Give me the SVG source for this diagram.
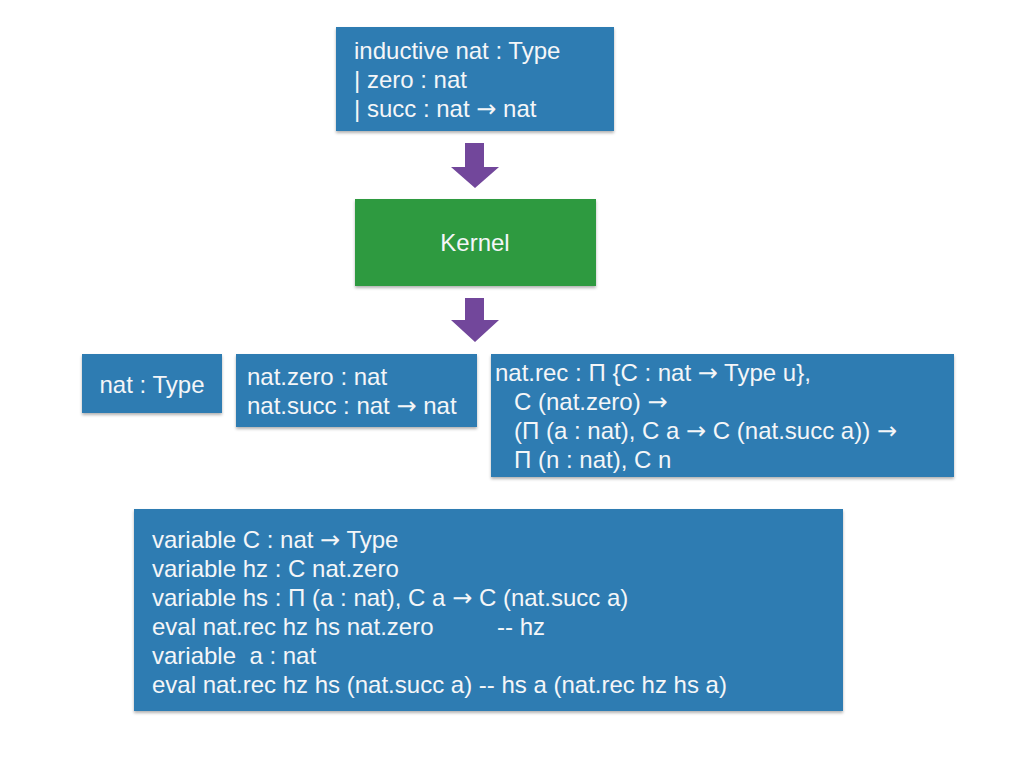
<svg xmlns="http://www.w3.org/2000/svg" width="1024" height="768" viewBox="0 0 1024 768">
<style>
.blue{fill:#2f7cb2;}
.green{fill:#2f9a3f;}
.arrow{fill:#72479b;}
.t{font-family:"Liberation Sans","Helvetica Neue",Arial,sans-serif;font-size:24px;fill:#f4f6f8;white-space:pre;}
.c{text-anchor:middle;}
.a{font-family:"DejaVu Sans",sans-serif;font-size:24px;}
</style>
<defs>
<filter id="sh" x="-5%" y="-10%" width="110%" height="125%">
<feDropShadow dx="0" dy="2" stdDeviation="1.5" flood-color="#000" flood-opacity="0.3"/>
</filter>
</defs>
<rect width="1024" height="768" fill="#ffffff"/>
<g id="connectors">
<polygon class="arrow" points="465,143 484,143 484,167 499,167 475,188 451,167 465,167"/>
<polygon class="arrow" points="465,298 484,298 484,320 499,320 475,342 451,320 465,320"/>
</g>
<g id="inductive">
<rect class="blue" x="336" y="27" width="278" height="104" filter="url(#sh)"/>
<text class="t" x="354" y="59">inductive nat : Type</text>
<text class="t" x="354" y="88">| zero : nat</text>
<text class="t" x="354" y="117">| succ : nat <tspan class="a">→</tspan> nat</text>
</g>
<g id="kernel">
<rect class="green" x="355" y="199" width="241" height="87" filter="url(#sh)"/>
<text class="t c" x="475" y="251">Kernel</text>
</g>
<g id="natType">
<rect class="blue" x="82" y="354" width="140" height="59" filter="url(#sh)"/>
<text class="t c" x="152" y="393">nat : Type</text>
</g>
<g id="natCtors">
<rect class="blue" x="236" y="354" width="241" height="73" filter="url(#sh)"/>
<text class="t" x="247" y="385">nat.zero : nat</text>
<text class="t" x="247" y="414">nat.succ : nat <tspan class="a">→</tspan> nat</text>
</g>
<g id="natRec">
<rect class="blue" x="491" y="354" width="463" height="123" filter="url(#sh)"/>
<text class="t" x="495" y="381">nat.rec : Π {C : nat <tspan class="a">→</tspan> Type u},</text>
<text class="t" x="514" y="410">C (nat.zero) <tspan class="a">→</tspan></text>
<text class="t" x="514" y="439">(Π (a : nat), C a <tspan class="a">→</tspan> C (nat.succ a)) <tspan class="a">→</tspan></text>
<text class="t" x="514" y="468">Π (n : nat), C n</text>
</g>
<g id="example">
<rect class="blue" x="134" y="509" width="709" height="202" filter="url(#sh)"/>
<text class="t" x="152" y="548">variable C : nat <tspan class="a">→</tspan> Type</text>
<text class="t" x="152" y="577">variable hz : C nat.zero</text>
<text class="t" x="152" y="606">variable hs : Π (a : nat), C a <tspan class="a">→</tspan> C (nat.succ a)</text>
<text class="t" x="152" y="635">eval nat.rec hz hs nat.zero<tspan x="497">-- hz</tspan></text>
<text class="t" x="152" y="664">variable  a : nat</text>
<text class="t" x="152" y="693">eval nat.rec hz hs (nat.succ a) -- hs a (nat.rec hz hs a)</text>
</g>
</svg>
